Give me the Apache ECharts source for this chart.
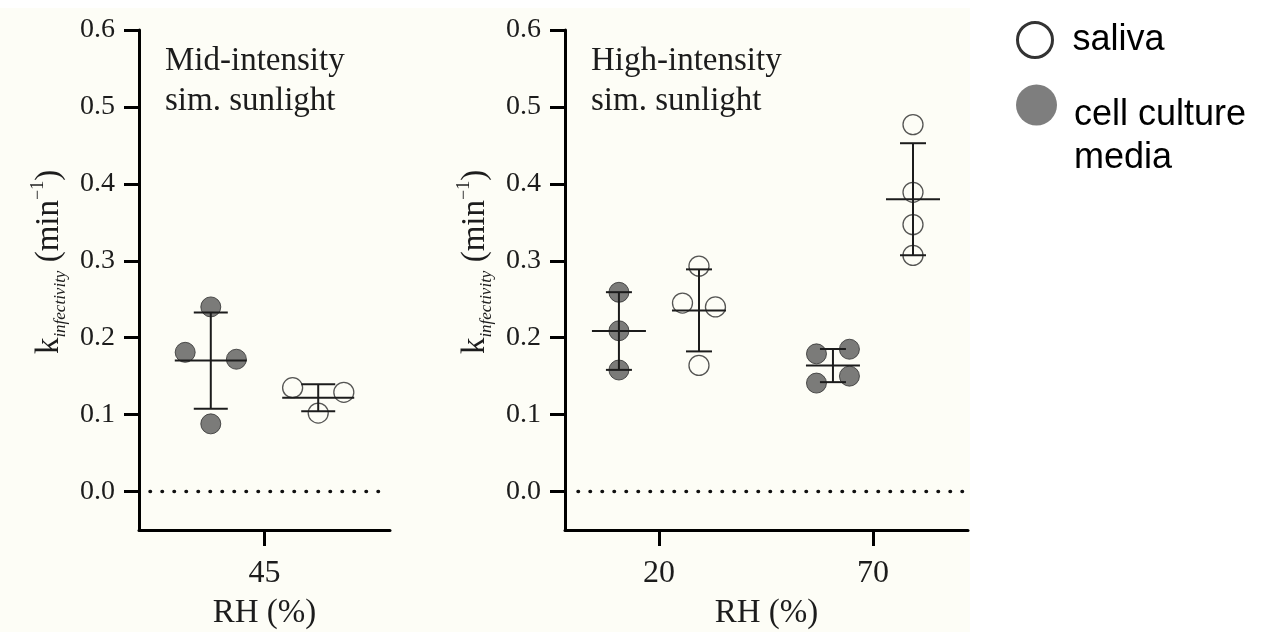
<!DOCTYPE html>
<html>
<head>
<meta charset="utf-8">
<script src="https://cdn.jsdelivr.net/npm/echarts@6/dist/echarts.min.js"></script>
<style>
  html, body { margin: 0; padding: 0; background: #ffffff; }
  #chart { width: 1267px; height: 632px; }
</style>
</head>
<body>
<div id="chart"></div>
<script>
// Relative humidity categories for each panel
const rhMid = ['45'];
const rhHigh = ['20', '70'];

// k_infectivity (min^-1) replicates — mid-intensity simulated sunlight, 45 % RH
const midMedia45 = [0.181, 0.240, 0.172, 0.088];
const midSaliva45 = [0.135, 0.129, 0.102];

// k_infectivity (min^-1) replicates — high-intensity simulated sunlight
const highMedia20 = [0.259, 0.209, 0.158];
const highSaliva20 = [0.293, 0.245, 0.240, 0.164];
const highMedia70 = [0.179, 0.185, 0.141, 0.150];
const highSaliva70 = [0.477, 0.389, 0.347, 0.307];

// y-axis tick values
const yTicks = [0, 0.1, 0.2, 0.3, 0.4, 0.5, 0.6];

const SERIF = '"Liberation Serif", "Times New Roman", serif';
const SANS = '"Liberation Sans", Arial, sans-serif';
const INK = '#1c1c1c';

// Panel layout: x axis runs in category units, groups sit either side of each tick
const panels = [
  {
    cats: rhMid, min: -0.5, max: 0.5, left: 139, width: 251,
    offset: 0.214, spread: 0.102, meanHalf: 36, capHalf: 17,
    zeroFrom: -0.456, zeroTo: 0.46,
    note: 'Mid-intensity\nsim. sunlight',
    groups: [
      { cat: 0, side: -1, kind: 'media', values: midMedia45, jitter: [-1, 0, 1, 0] },
      { cat: 0, side: 1, kind: 'saliva', values: midSaliva45, jitter: [-1, 1, 0] }
    ]
  },
  {
    cats: rhHigh, min: -0.439, max: 1.444, left: 565, width: 403,
    offset: 0.187, spread: 0.077, meanHalf: 27, capHalf: 13,
    zeroFrom: -0.378, zeroTo: 1.422,
    note: 'High-intensity\nsim. sunlight',
    groups: [
      { cat: 0, side: -1, kind: 'media', values: highMedia20, jitter: [0, 0, 0] },
      { cat: 0, side: 1, kind: 'saliva', values: highSaliva20, jitter: [0, -1, 1, 0] },
      { cat: 1, side: -1, kind: 'media', values: highMedia70, jitter: [-1, 1, -1, 1] },
      { cat: 1, side: 1, kind: 'saliva', values: highSaliva70, jitter: [0, 0, 0, 0] }
    ]
  }
];

const mean = a => a.reduce((s, v) => s + v, 0) / a.length;
const sd = a => {
  const m = mean(a);
  return Math.sqrt(a.reduce((s, v) => s + (v - m) * (v - m), 0) / (a.length - 1));
};

const GRID_TOP = 30, GRID_HEIGHT = 500;

const grids = [], xAxes = [], yAxes = [], series = [], notes = [];

panels.forEach((p, i) => {
  grids.push({ left: p.left, top: GRID_TOP, width: p.width, height: GRID_HEIGHT,
               containLabel: false, outerBoundsMode: 'none' });

  xAxes.push({
    type: 'value', gridIndex: i, min: p.min, max: p.max,
    axisLine: { show: true, onZero: false, lineStyle: { color: '#000', width: 3 } },
    axisTick: { show: true, length: 16, customValues: p.cats.map((c, k) => k),
                lineStyle: { color: '#000', width: 3 } },
    axisLabel: { customValues: p.cats.map((c, k) => k), formatter: v => p.cats[Math.round(v)],
                 fontFamily: SERIF, fontSize: 32, color: INK, margin: 28 },
    splitLine: { show: false },
    name: 'RH (%)', nameLocation: 'middle', nameGap: 67,
    nameTextStyle: { fontFamily: SERIF, fontSize: 33, color: INK }
  });

  yAxes.push({
    type: 'value', gridIndex: i, min: -0.05, max: 0.6,
    axisLine: { show: true, onZero: false, lineStyle: { color: '#000', width: 3 } },
    axisTick: { show: true, length: 15, customValues: yTicks, lineStyle: { color: '#000', width: 3 } },
    axisLabel: { customValues: yTicks, formatter: v => v.toFixed(1),
                 fontFamily: SERIF, fontSize: 28, color: INK, margin: 24 },
    splitLine: { show: false },
    name: '{k|k}{sub|infectivity}{n| (min}{sup|\u22121}{n|)}',
    nameLocation: 'middle', nameRotate: 90, nameGap: 70,
    nameTextStyle: {
      color: INK,
      padding: [0, 0, 0, 36],
      rich: {
        k: { fontFamily: SERIF, fontSize: 33, color: INK, lineHeight: 40, verticalAlign: 'middle' },
        n: { fontFamily: SERIF, fontSize: 33, color: INK, lineHeight: 40, verticalAlign: 'middle' },
        sub: { fontFamily: SERIF, fontSize: 17, fontStyle: 'italic', color: INK, lineHeight: 17, verticalAlign: 'bottom' },
        sup: { fontFamily: SERIF, fontSize: 18, color: INK, lineHeight: 18, verticalAlign: 'top' }
      }
    }
  });

  // dotted reference line at k = 0
  series.push({
    type: 'line', xAxisIndex: i, yAxisIndex: i, silent: true, symbol: 'none', z: 1,
    data: [[p.zeroFrom, 0], [p.zeroTo, 0]],
    lineStyle: { color: '#111', width: 3.6, type: [0.4, 11.6], cap: 'round' }
  });

  ['media', 'saliva'].forEach(kind => {
    const pts = [];
    p.groups.filter(g => g.kind === kind).forEach(g => {
      const cx = g.cat + g.side * p.offset;
      g.values.forEach((v, k) => pts.push([cx + g.jitter[k] * p.spread, v]));
    });
    series.push({
      type: 'scatter', name: kind === 'media' ? 'cell culture media' : 'saliva',
      xAxisIndex: i, yAxisIndex: i, symbol: 'circle', symbolSize: 20, z: 2,
      data: pts,
      itemStyle: kind === 'media'
        ? { color: '#5a5a5a', borderColor: '#2e2e2e', borderWidth: 1 }
        : { color: 'rgba(255,255,255,0)', borderColor: '#2a2a2a', borderWidth: 1.3 },
      emphasis: { disabled: true }
    });
  });

  // mean ± SD bars for each group
  const bars = p.groups.map(g => {
    const m = mean(g.values), s = sd(g.values);
    return [g.cat + g.side * p.offset, m, m - s, m + s];
  });
  series.push({
    type: 'custom', xAxisIndex: i, yAxisIndex: i, z: 3, silent: true,
    encode: { x: 0, y: [1, 2, 3] },
    data: bars,
    renderItem: (params, api) => {
      const x = api.value(0);
      const pm = api.coord([x, api.value(1)]);
      const pl = api.coord([x, api.value(2)]);
      const ph = api.coord([x, api.value(3)]);
      const style = { stroke: INK, lineWidth: 2 };
      const seg = (x1, y1, x2, y2) => ({ type: 'line', shape: { x1, y1, x2, y2 }, style });
      return {
        type: 'group',
        children: [
          seg(pm[0] - p.meanHalf, pm[1], pm[0] + p.meanHalf, pm[1]),
          seg(pl[0], pl[1], ph[0], ph[1]),
          seg(pl[0] - p.capHalf, pl[1], pl[0] + p.capHalf, pl[1]),
          seg(ph[0] - p.capHalf, ph[1], ph[0] + p.capHalf, ph[1])
        ]
      };
    }
  });

  notes.push({
    type: 'text', left: p.left + 26, top: 41, z: 10,
    style: { text: p.note, font: '33px ' + SERIF, lineHeight: 40, fill: INK }
  });
});

const chart = echarts.init(document.getElementById('chart'), null, { renderer: 'canvas' });
chart.setOption({
  animation: false,
  backgroundColor: '#ffffff',
  grid: grids,
  xAxis: xAxes,
  yAxis: yAxes,
  legend: [
    {
      left: 1016, top: 18.5, padding: 0, selectedMode: false,
      itemWidth: 35, itemHeight: 35,
      data: [{ name: 'saliva', icon: 'circle',
               itemStyle: { color: 'rgba(255,255,255,0)', borderColor: '#000', borderWidth: 3 } }],
      textStyle: { fontFamily: SANS, fontSize: 36, color: '#000', lineHeight: 43, padding: [0, 0, 0, 15] }
    },
    {
      left: 1016, top: 57, padding: 0, selectedMode: false,
      itemWidth: 41, itemHeight: 41,
      data: [{ name: 'cell culture media', icon: 'circle',
               itemStyle: { color: '#5e5e5e', borderWidth: 0 } }],
      formatter: () => '{gap| }\n{t|cell culture}\n{t|media}',
      textStyle: {
        padding: [0, 0, 0, 12],
        rich: {
          gap: { fontSize: 10, lineHeight: 63 },
          t: { fontFamily: SANS, fontSize: 36, color: '#000', lineHeight: 43 }
        }
      }
    }
  ],
  graphic: [
    { type: 'rect', left: 0, top: 8, z: -100, silent: true,
      shape: { width: 970, height: 624 }, style: { fill: '#fdfdf6' } }
  ].concat(notes),
  series: series
});
</script>
</body>
</html>
